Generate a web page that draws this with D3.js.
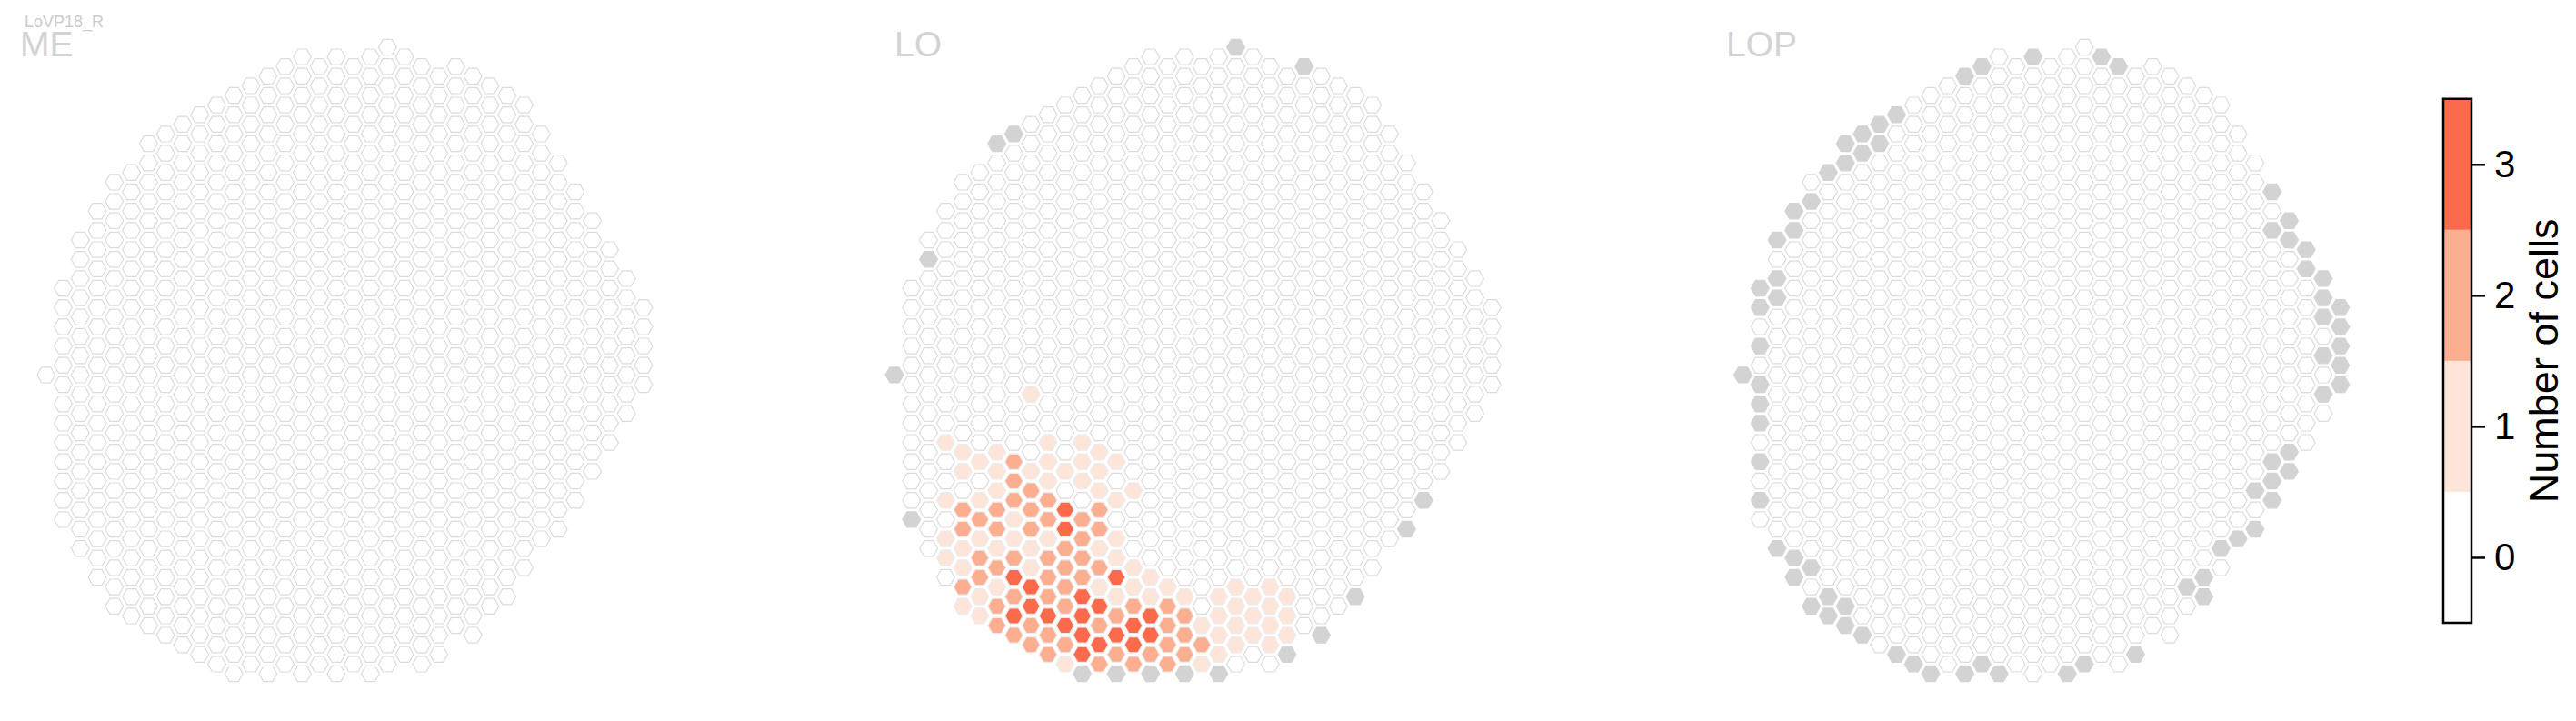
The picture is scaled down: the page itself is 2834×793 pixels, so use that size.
<!DOCTYPE html>
<html>
<head>
<meta charset="utf-8">
<script src="https://cdn.jsdelivr.net/npm/d3@7"></script>
<style>
  html, body { margin: 0; padding: 0; background: #ffffff; }
  svg { display: block; }
  text { font-family: "Liberation Sans", Arial, sans-serif; }
</style>
</head>
<body>
<svg id="chart" width="2834" height="793"></svg>
<script>
// ---------------- data ----------------
const neuronLabel = "LoVP18_R";
const panelNames = ["ME", "LO", "LOP"];

// hex-column lattice: for each column index c, first and last half-row index k
const colTop    = [34,25,20,17,14,13,10, 9, 8, 7, 6, 5, 4, 3, 2, 1, 2, 1, 2, 1, 0, 1, 2, 3, 2, 3, 4, 5, 6, 9,12,15,18,21,24,27];
const colBottom = [34,49,52,55,58,59,60,61,62,63,64,65,64,65,64,65,64,65,64,65,64,63,64,63,60,61,58,57,54,51,50,47,44,41,38,35];

// number of cells per column in LO: [column, halfRow, count]
const loCounts = [
  [8,36,1],
  [3,41,1],[9,41,1],[11,41,1],
  [4,42,1],[6,42,1],[12,42,1],
  [5,43,1],[7,43,2],[9,43,1],[11,43,1],[13,43,1],
  [4,44,1],[6,44,1],[8,44,1],[10,44,1],[12,44,1],
  [7,45,2],[9,45,1],[11,45,1],
  [6,46,1],[8,46,2],[12,46,1],[14,46,1],
  [3,47,1],[5,47,1],[7,47,2],[9,47,2],[13,47,1],
  [4,48,2],[6,48,2],[8,48,2],[10,48,3],[12,48,2],
  [5,49,2],[7,49,1],[9,49,2],[11,49,2],
  [4,50,2],[6,50,2],[8,50,2],[10,50,3],[12,50,2],
  [3,51,1],[5,51,1],[7,51,1],[9,51,1],[11,51,2],[13,51,1],
  [4,52,1],[6,52,1],[8,52,1],[10,52,2],[12,52,1],
  [3,53,1],[5,53,2],[7,53,2],[9,53,2],[11,53,2],[13,53,1],
  [4,54,1],[6,54,2],[8,54,1],[10,54,2],[12,54,2],[14,54,1],
  [5,55,2],[7,55,3],[9,55,2],[11,55,2],[13,55,3],[15,55,1],
  [4,56,2],[6,56,1],[8,56,3],[10,56,2],[12,56,1],[14,56,1],[16,56,1],[20,56,1],[22,56,1],
  [5,57,1],[7,57,2],[9,57,2],[11,57,3],[13,57,1],[15,57,1],[17,57,1],[19,57,1],[21,57,1],[23,57,1],
  [4,58,1],[6,58,2],[8,58,3],[10,58,2],[12,58,3],[14,58,2],[16,58,2],[20,58,1],[22,58,1],
  [5,59,1],[7,59,3],[9,59,3],[11,59,3],[13,59,2],[15,59,3],[17,59,2],[19,59,1],[21,59,1],[23,59,1],
  [6,60,2],[8,60,2],[10,60,3],[12,60,2],[14,60,3],[16,60,2],[18,60,1],[20,60,1],[22,60,1],
  [7,61,2],[9,61,2],[11,61,3],[13,61,3],[15,61,3],[17,61,2],[19,61,1],[21,61,1],[23,61,1],
  [8,62,2],[10,62,2],[12,62,3],[14,62,3],[16,62,2],[18,62,2],[20,62,1],[22,62,1],
  [9,63,2],[11,63,3],[13,63,2],[15,63,2],[17,63,2],[19,63,1],
  [10,64,1],[12,64,2],[14,64,2],[16,64,2],[18,64,1]
];

// columns outside the neuropil ROI (grey): [column, halfRow]
const meGrey = [];
const loGrey = [
  [0,34],[1,49],[2,22],[6,10],[7,9],[20,0],[24,2],
  [11,65],[13,65],[15,65],[17,65],[19,65],[23,63],[25,61],[27,57],[30,50],[31,47]
];
const lopGrey = [
  [17,1],[14,2],[13,3],[21,1],[22,2],[9,7],[8,8],[7,9],[8,10],[6,10],[7,11],[6,12],[5,13],
  [4,16],[3,17],[3,19],[2,20],[2,24],[1,25],[2,26],[1,27],[1,31],[0,34],[1,35],[1,37],[1,39],
  [1,43],[1,47],[2,52],[3,53],[4,54],[3,55],[5,57],[4,58],[6,58],[5,59],[6,60],[7,61],
  [9,63],[10,64],[11,65],[13,65],[14,64],[15,65],[19,65],[20,64],[23,63],
  [31,15],[32,18],[31,19],[32,20],[33,21],[33,23],[34,24],[34,26],[35,27],[34,28],[35,29],
  [35,31],[34,32],[35,33],[35,35],[34,36],[32,42],[31,43],[32,44],[31,45],[30,46],[31,47],
  [30,50],[29,51],[28,52],[27,55],[26,56],[27,57]
];

const countTicks = [0, 1, 2, 3];
const countColors = ["#ffffff", "#fee5d9", "#fcae91", "#fb6a4a"];
const colorbarTitle = "Number of cells";

// ---------------- drawing ----------------
const svg = d3.select("#chart");
svg.append("rect").attr("width", 2834).attr("height", 793).attr("fill", "#ffffff");

const nCols = colTop.length;
const colStep = 18.78, halfRowStep = 10.6;
const x = d3.scaleLinear().domain([0, nCols - 1]).range([0, (nCols - 1) * colStep]);
const y = d3.scaleLinear().domain([0, 65]).range([52, 52 + 65 * halfRowStep]);
const color = d3.scaleThreshold().domain([0.5, 1.5, 2.5]).range(countColors);

const panelX0 = [50.7, 984, 1917.5];
const titleX = [22, 984, 1899];

const rx = 9.9, ry = 8.6;
const hexPath = `M${-rx},0L${-rx/2},${-ry}L${rx/2},${-ry}L${rx},0L${rx/2},${ry}L${-rx/2},${ry}Z`;

const cells = [];
d3.range(nCols).forEach(c => {
  for (let k = colTop[c]; k <= colBottom[c]; k += 2) cells.push({c, k});
});
const key = (c, k) => c + "_" + k;

const panelCounts = [new Map(), new Map(loCounts.map(d => [key(d[0], d[1]), d[2]])), new Map()];
const panelGrey = [meGrey, loGrey, lopGrey].map(a => new Set(a.map(d => key(d[0], d[1]))));

panelNames.forEach((name, i) => {
  const g = svg.append("g").attr("transform", `translate(${panelX0[i]},0)`);
  const data = cells.map(d => {
    const kk = key(d.c, d.k);
    return {c: d.c, k: d.k, grey: panelGrey[i].has(kk), v: panelCounts[i].get(kk) || 0};
  });
  g.selectAll("path.hex")
    .data(data)
    .join("path")
    .attr("class", "hex")
    .attr("d", hexPath)
    .attr("transform", d => `translate(${x(d.c)},${y(d.k)})`)
    .attr("fill", d => d.grey ? "#d3d3d3" : color(d.v))
    .attr("stroke", d => d.grey ? "#d3d3d3" : (d.v > 0 ? "#ececec" : "#dcdcdc"))
    .attr("stroke-width", 1.2);

  svg.append("text")
    .attr("x", titleX[i]).attr("y", 62)
    .attr("font-size", 39).attr("fill", "#d3d3d3")
    .text(name);
});

svg.append("text")
  .attr("x", 27).attr("y", 29.5)
  .attr("font-size", 18).attr("fill", "#cccccc")
  .text(neuronLabel);

// ---------------- colorbar ----------------
const cbX = 2688, cbW = 31, cbTop = 108.75, cbBottom = 685;
const cbScale = d3.scaleLinear().domain([-0.5, 3.5]).range([cbBottom, cbTop]);
const cb = svg.append("g");
cb.selectAll("rect.band")
  .data(countTicks)
  .join("rect")
  .attr("class", "band")
  .attr("x", cbX)
  .attr("y", d => cbScale(d + 0.5))
  .attr("width", cbW)
  .attr("height", d => cbScale(d - 0.5) - cbScale(d + 0.5))
  .attr("fill", d => countColors[d]);
cb.append("rect")
  .attr("x", cbX).attr("y", cbTop)
  .attr("width", cbW).attr("height", cbBottom - cbTop)
  .attr("fill", "none").attr("stroke", "#000").attr("stroke-width", 2.5);

const axis = d3.axisRight(cbScale).tickValues(countTicks).tickSize(15).tickPadding(10).tickFormat(d3.format("d"));
const axG = svg.append("g").attr("transform", `translate(${cbX + cbW},0)`).call(axis);
axG.select(".domain").remove();
axG.selectAll(".tick line").attr("stroke", "#000").attr("stroke-width", 2.5);
axG.selectAll(".tick text")
  .attr("font-size", 42).attr("fill", "#000")
  .attr("font-family", "'Liberation Sans', Arial, sans-serif");

svg.append("text")
  .attr("transform", `translate(2814,${(cbTop + cbBottom) / 2}) rotate(-90)`)
  .attr("text-anchor", "middle")
  .attr("font-size", 45).attr("fill", "#000")
  .text(colorbarTitle);
</script>
</body>
</html>
